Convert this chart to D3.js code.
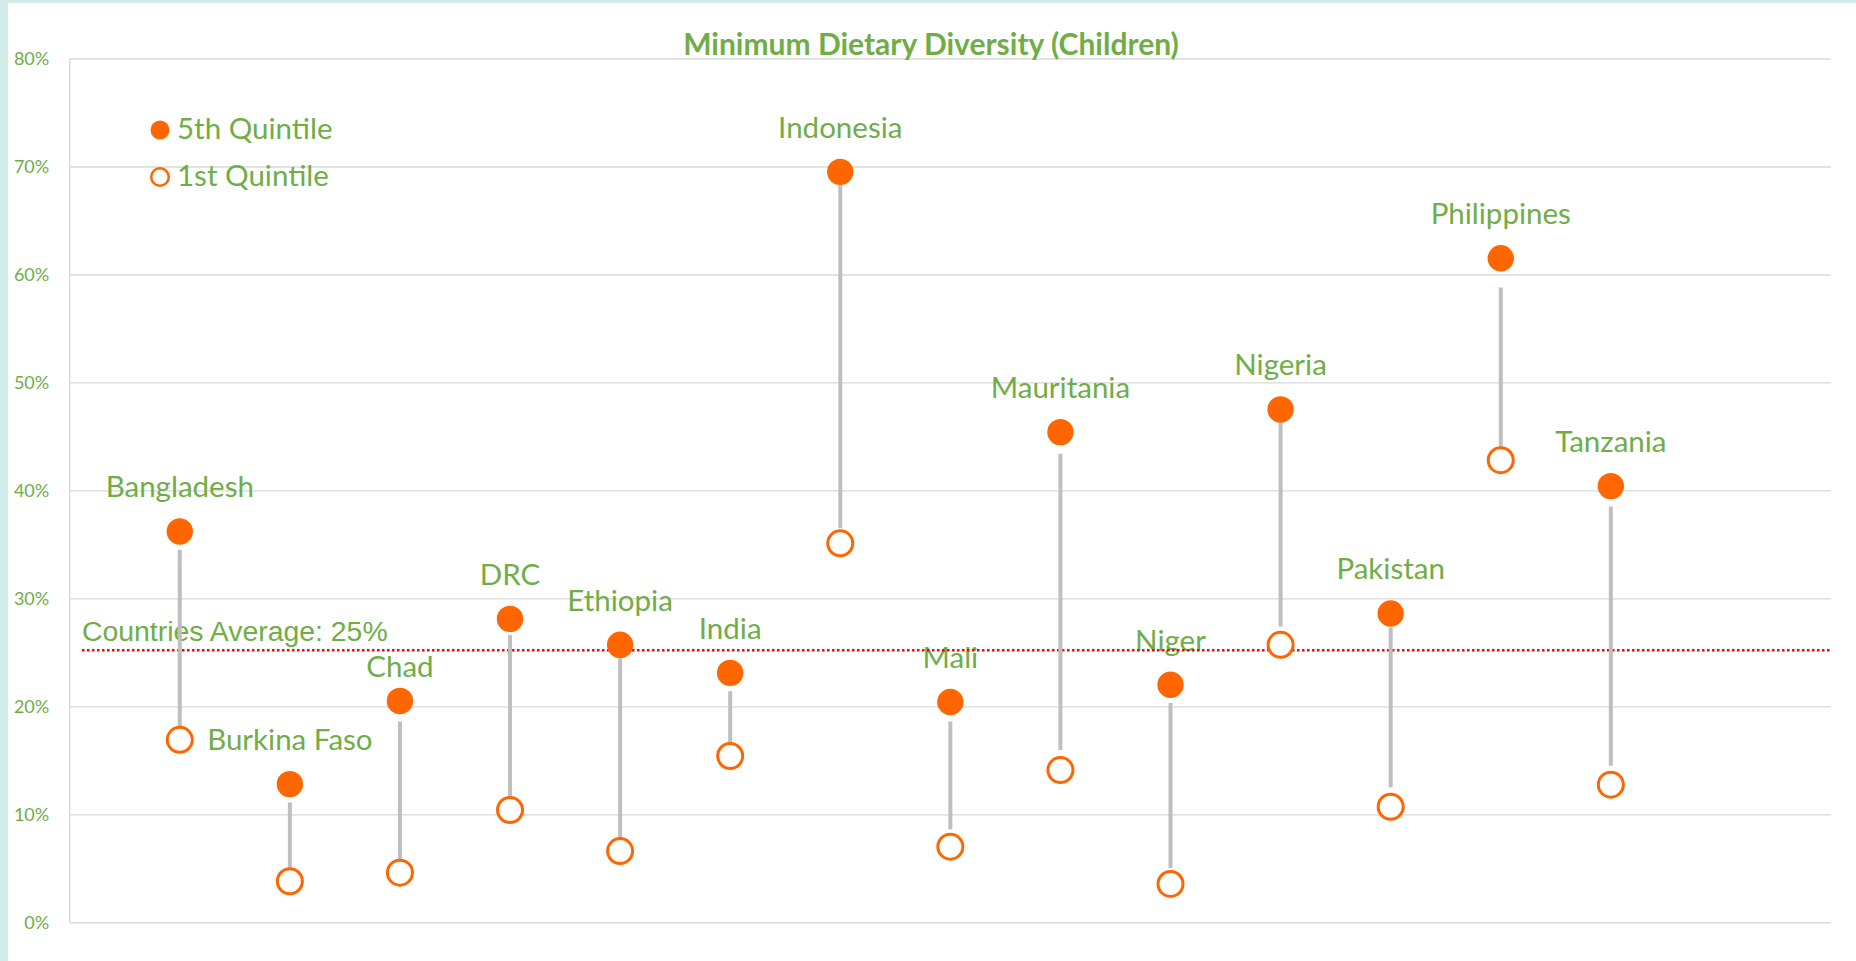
<!DOCTYPE html>
<html>
<head>
<meta charset="utf-8">
<script src="https://cdn.jsdelivr.net/npm/d3@7"></script>
<style>
  html, body { margin: 0; padding: 0; background: #ffffff; }
  svg { display: block; }
</style>
</head>
<body>
<script>
// ---- data (percent) ----
const countries = ["Bangladesh", "Burkina Faso", "Chad", "DRC", "Ethiopia", "India", "Indonesia",
                   "Mali", "Mauritania", "Niger", "Nigeria", "Pakistan", "Philippines", "Tanzania"];
const quintile5 = [36.2, 12.8, 20.5, 28.1, 25.7, 23.1, 69.5, 20.4, 45.4, 22.0, 47.5, 28.6, 61.5, 40.4];
const quintile1 = [16.9, 3.8, 4.6, 10.4, 6.6, 15.4, 35.1, 7.0, 14.1, 3.55, 25.7, 10.7, 42.8, 12.75];
const connectorTop    = [34.5, 11.1, 18.6, 26.6, 25.3, 21.4, 68.3, 18.6, 43.4, 20.3, 46.8, 27.3, 58.8, 38.5];
const connectorBottom = [17.7, 5.0, 5.8, 11.5, 7.7, 16.5, 36.5, 8.6, 15.95, 5.0, 27.4, 12.5, 43.4, 14.5];
const countriesAverage = 25.2;
const yTicks = [0, 10, 20, 30, 40, 50, 60, 70, 80];
const seriesNames = ["5th Quintile", "1st Quintile"];
const titleText = "Minimum Dietary Diversity (Children)";
const averageText = "Countries Average: 25%";

// ---- layout ----
const W = 1856, H = 961;
const GREEN = "#70AD47", ORANGE = "#FF6600", GRID = "#D9D9D9", CONN = "#BFBFBF";
const LABEL_FONT = "Lato, 'Open Sans', sans-serif";

const svg = d3.select("body").append("svg").attr("width", W).attr("height", H);

// background frame
svg.append("rect").attr("width", W).attr("height", H).attr("fill", "#d2ece9");
svg.append("rect").attr("x", 8).attr("y", 3).attr("width", W - 8).attr("height", H - 3).attr("fill", "#ffffff");

const x = d3.scaleLinear().domain([0, 16]).range([69.7, 1831]);
const y = d3.scaleLinear().domain([0, 80]).range([922.3, 58.5]);

// gridlines
const grid = svg.append("g").attr("transform", `translate(${x(0)},0)`)
  .call(d3.axisLeft(y).tickValues(yTicks).tickSize(-(x(16) - x(0))).tickFormat(""));
grid.select(".domain").remove();
grid.selectAll("line").attr("stroke", GRID).attr("stroke-width", 1.4);

// left axis line
svg.append("line").attr("x1", x(0)).attr("x2", x(0)).attr("y1", y(80)).attr("y2", y(0))
  .attr("stroke", GRID).attr("stroke-width", 1.4);

// tick labels
const yAxis = svg.append("g").attr("transform", `translate(${x(0)},0)`)
  .call(d3.axisLeft(y).tickValues(yTicks).tickSize(0).tickPadding(20.5).tickFormat(d => d + "%"));
yAxis.select(".domain").remove();
yAxis.selectAll("text").attr("fill", GREEN).attr("font-family", LABEL_FONT).attr("font-size", 18);

// title
svg.append("text").attr("x", 931).attr("y", 55).attr("text-anchor", "middle")
  .attr("fill", GREEN).attr("font-family", LABEL_FONT).attr("font-weight", "bold")
  .attr("font-size", 30).text(titleText);

// country labels
svg.append("g").selectAll("text").data(countries).join("text")
  .attr("x", (d, i) => x(i + 1))
  .attr("y", (d, i) => y(quintile5[i]) - (d === "Chad" ? 24 : 34))
  .attr("text-anchor", "middle")
  .attr("fill", GREEN).attr("font-family", LABEL_FONT).attr("font-size", 29.5)
  .text(d => d);

// average label + line
svg.append("text").attr("x", 82).attr("y", y(countriesAverage) - 9)
  .attr("fill", GREEN).attr("font-family", "'Liberation Sans', Arial, sans-serif").attr("font-size", 28.4)
  .text(averageText);
svg.append("line").attr("x1", 82).attr("x2", x(16))
  .attr("y1", y(countriesAverage)).attr("y2", y(countriesAverage))
  .attr("stroke", "#FF0000").attr("stroke-width", 2.5).attr("stroke-dasharray", "2.5 2.5");

// connectors
svg.append("g").selectAll("line").data(countries).join("line")
  .attr("x1", (d, i) => x(i + 1)).attr("x2", (d, i) => x(i + 1))
  .attr("y1", (d, i) => y(connectorTop[i])).attr("y2", (d, i) => y(connectorBottom[i]))
  .attr("stroke", CONN).attr("stroke-width", 4);

// 1st quintile (hollow)
svg.append("g").selectAll("circle").data(quintile1).join("circle")
  .attr("cx", (d, i) => x(i + 1)).attr("cy", d => y(d)).attr("r", 12.5)
  .attr("fill", "#ffffff").attr("stroke", ORANGE).attr("stroke-width", 3);

// 5th quintile (filled)
svg.append("g").selectAll("circle").data(quintile5).join("circle")
  .attr("cx", (d, i) => x(i + 1)).attr("cy", d => y(d)).attr("r", 13.2)
  .attr("fill", ORANGE);

// legend
const legend = svg.append("g");
const legendRows = legend.selectAll("g").data(seriesNames).join("g")
  .attr("transform", (d, i) => `translate(160, ${130 + i * 47})`);
legendRows.append("circle")
  .attr("r", (d, i) => i === 0 ? 9.5 : 8.8)
  .attr("fill", (d, i) => i === 0 ? ORANGE : "#ffffff")
  .attr("stroke", (d, i) => i === 0 ? "none" : ORANGE)
  .attr("stroke-width", 2.5);
legendRows.append("text").attr("x", 17).attr("y", 8.5)
  .attr("fill", GREEN).attr("font-family", LABEL_FONT).attr("font-size", 29.5)
  .text(d => d);
</script>
</body>
</html>
